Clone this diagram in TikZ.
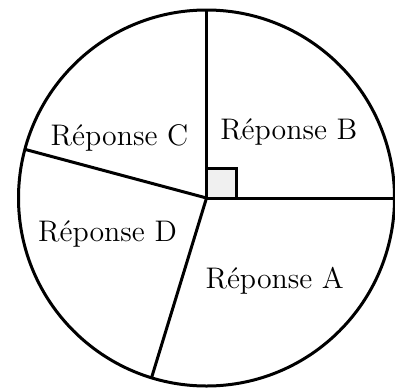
\documentclass[tikz,border=0pt]{standalone}
\begin{document}
\begin{tikzpicture}[x=0.5pt,y=0.5pt,
  edge/.style={line width=1.5pt},
  lbl/.style={anchor=base,inner sep=0pt,font=\fontsize{14.9}{18}\selectfont}]
\useasboundingbox (0,0) rectangle (395,387);
\coordinate (O) at (206.5,189);
\path (O) ++(90:188) coordinate (top)
      (O) ++(0:188) coordinate (right)
      (O) ++(165:188) coordinate (left)
      (O) ++(253:188) coordinate (bottom)
      (O) ++(30,30) coordinate (sq);
\draw[edge,fill=black!6] (O) rectangle (sq);
\draw[edge] (O) circle[radius=188];
\draw[edge] (O) -- (top);
\draw[edge] (O) -- (right);
\draw[edge] (O) -- (left);
\draw[edge] (O) -- (bottom);
\node[lbl] (B) at (288.8,248) {Réponse B};
\node[lbl] (C) at (119.5,242) {Réponse C};
\node[lbl] (D) at (107.5,145.3) {Réponse D};
\node[lbl] (A) at (274.7,98.7) {Réponse A};
\end{tikzpicture}
\end{document}
